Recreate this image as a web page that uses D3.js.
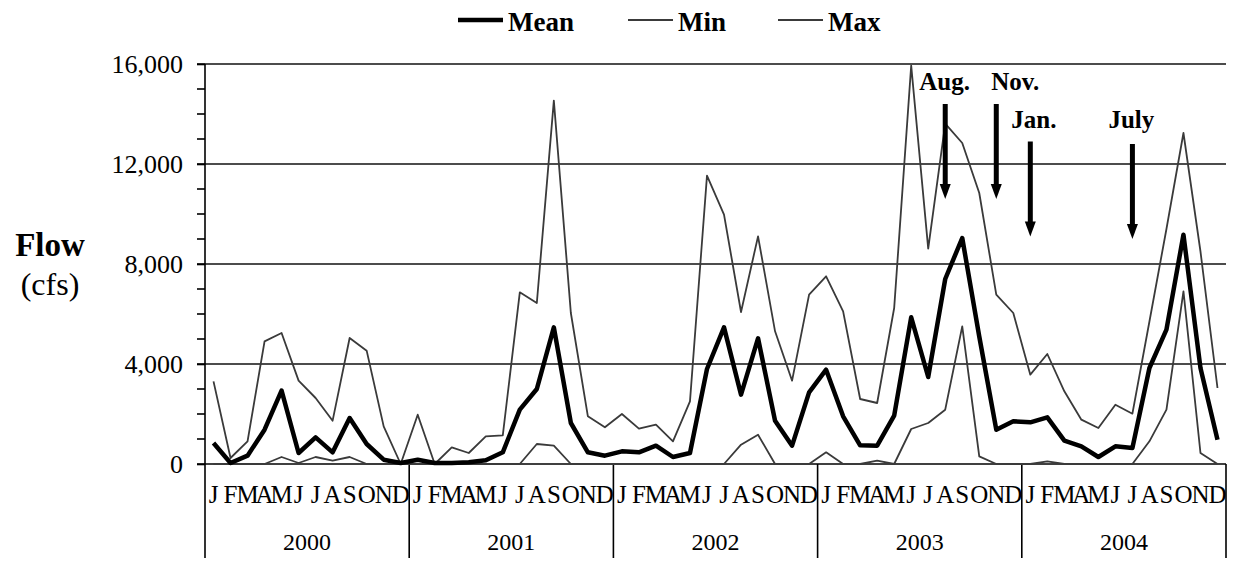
<!DOCTYPE html>
<html>
<head>
<meta charset="utf-8">
<script src="https://cdn.jsdelivr.net/npm/d3@7"></script>
<style>
  body { margin: 0; background: #fff; }
  svg { display: block; font-family: "Liberation Serif", "Times New Roman", serif; }
</style>
</head>
<body>
<svg id="chart" width="1233" height="562"></svg>
<script>
// Monthly flow, 2000-2004 (cfs)
var years = ['2000', '2001', '2002', '2003', '2004'];
var monthLetters = ['J', 'F', 'M', 'A', 'M', 'J', 'J', 'A', 'S', 'O', 'N', 'D'];

var meanFlow = [
    840, 40, 333, 1373, 2933, 440, 1067, 467, 1840, 800, 173, 40,
    173, 40, 40, 67, 147, 467, 2173, 3000, 5467, 1640, 467, 333,
    507, 467, 733, 280, 440, 3800, 5467, 2773, 5027, 1733, 733, 2867,
    3773, 1907, 747, 733, 1933, 5867, 3480, 7400, 9040, 5100, 1373, 1707,
    1667, 1867, 933, 707, 280, 707, 640, 3840, 5373, 9173, 3840, 973
];
var minFlow = [
    0, 0, 0, 0, 280, 40, 280, 133, 280, 0, 0, 0,
    0, 0, 0, 0, 0, 0, 0, 800, 733, 0, 0, 0,
    0, 0, 0, 0, 0, 0, 0, 773, 1173, 0, 0, 0,
    467, 0, 0, 133, 0, 1400, 1640, 2173, 5507, 307, 0, 0,
    0, 107, 0, 0, 0, 0, 0, 907, 2173, 6907, 440, 0
];
var maxFlow = [
    3307, 240, 907, 4907, 5240, 3333, 2640, 1733, 5040, 4533, 1507, 0,
    1973, 0, 667, 440, 1107, 1147, 6867, 6440, 14533, 6040, 1907, 1467,
    2000, 1413, 1573, 907, 2507, 11533, 9973, 6080, 9107, 5307, 3333, 6773,
    7507, 6107, 2600, 2440, 6240, 15933, 8613, 13613, 12840, 10840, 6773, 6040,
    3573, 4400, 2907, 1773, 1440, 2373, 2013, 5700, 9400, 13240, 8500, 3040
];

var yTicks = [0, 4000, 8000, 12000, 16000];
var yMinorTicks = d3.range(0, 16001, 1000);

// arrows: month index, label, top and bottom value
var noteMonth = [43, 46, 48, 54];
var noteText = ['Aug.', 'Nov.', 'Jan.', 'July'];
var noteTop = [14400, 14400, 12900, 12800];
var noteBottom = [10600, 10600, 9100, 9000];

var svg = d3.select('#chart');
// note: "top" is taken by window.top, so use plot* names
var plotLeft = 205, plotRight = 1226, plotTop = 64, plotBottom = 464;

var nMonths = years.length * 12;
var x = d3.scaleLinear().domain([0, nMonths]).range([plotLeft, plotRight]);
var y = d3.scaleLinear().domain([0, 16000]).range([plotBottom, plotTop]);
function mx(i) { return x(i + 0.5); }

// gridlines
svg.append('g').selectAll('line')
    .data(yTicks.filter(function(d) { return d > 0; }))
    .enter().append('line')
    .attr('x1', plotLeft).attr('x2', plotRight)
    .attr('y1', function(d) { return y(d); })
    .attr('y2', function(d) { return y(d); })
    .attr('stroke', '#111').attr('stroke-width', 1.6);

// y axis with major labels
var yAxis = d3.axisLeft(y)
    .tickValues(yTicks)
    .tickSize(8)
    .tickPadding(14)
    .tickFormat(d3.format(','));
var ya = svg.append('g').attr('transform', 'translate(' + plotLeft + ',0)').call(yAxis);
ya.select('.domain').remove();
ya.selectAll('.tick line').attr('stroke', '#000').attr('stroke-width', 1.6);
ya.selectAll('.tick text').attr('font-size', 26).attr('fill', '#000')
    .attr('font-family', '"Liberation Serif", "Times New Roman", serif');

// minor ticks
svg.append('g').selectAll('line')
    .data(yMinorTicks)
    .enter().append('line')
    .attr('x1', plotLeft - 8).attr('x2', plotLeft)
    .attr('y1', function(d) { return y(d); })
    .attr('y2', function(d) { return y(d); })
    .attr('stroke', '#000').attr('stroke-width', 1.6);

// axis lines
svg.append('line')
    .attr('x1', plotLeft).attr('x2', plotLeft).attr('y1', plotTop).attr('y2', 558)
    .attr('stroke', '#000').attr('stroke-width', 1.6);
svg.append('line')
    .attr('x1', plotLeft).attr('x2', plotRight).attr('y1', plotBottom).attr('y2', plotBottom)
    .attr('stroke', '#000').attr('stroke-width', 1.6);

// year separators
svg.append('g').selectAll('line')
    .data(d3.range(1, years.length + 1))
    .enter().append('line')
    .attr('x1', function(d) { return x(d * 12); })
    .attr('x2', function(d) { return x(d * 12); })
    .attr('y1', plotBottom).attr('y2', 558)
    .attr('stroke', '#000').attr('stroke-width', 1.6);

// month letters
svg.append('g').selectAll('text')
    .data(d3.range(nMonths))
    .enter().append('text')
    .attr('x', function(i) { return mx(i); })
    .attr('y', 503)
    .attr('text-anchor', 'middle')
    .attr('font-size', 25)
    .text(function(i) { return monthLetters[i % 12]; });

// year labels
svg.append('g').selectAll('text')
    .data(years)
    .enter().append('text')
    .attr('x', function(d, i) { return x(i * 12 + 6); })
    .attr('y', 550)
    .attr('text-anchor', 'middle')
    .attr('font-size', 24)
    .text(function(d) { return d; });

// series lines
var line = d3.line()
    .x(function(d, i) { return mx(i); })
    .y(function(d) { return y(d); })
    .curve(d3.curveLinear);

svg.append('path').datum(minFlow)
    .attr('d', line).attr('fill', 'none')
    .attr('stroke', '#3a3a3a').attr('stroke-width', 1.8)
    .attr('stroke-linejoin', 'round');
svg.append('path').datum(maxFlow)
    .attr('d', line).attr('fill', 'none')
    .attr('stroke', '#3a3a3a').attr('stroke-width', 1.8)
    .attr('stroke-linejoin', 'round');
svg.append('path').datum(meanFlow)
    .attr('d', line).attr('fill', 'none')
    .attr('stroke', '#000').attr('stroke-width', 4.5)
    .attr('stroke-linejoin', 'round');

// arrows and their labels
var headLen = 15, headHalf = 5.5;
var noteDx = [-26, -5, -19, -24];      // label start relative to arrow
var noteBase = [90, 90, 128, 128];      // label baselines
noteMonth.forEach(function(m, k) {
    var ax = mx(m);
    var y0 = y(noteTop[k]), y1 = y(noteBottom[k]);
    svg.append('line')
        .attr('x1', ax).attr('x2', ax)
        .attr('y1', y0).attr('y2', y1 - headLen + 1)
        .attr('stroke', '#000').attr('stroke-width', 5);
    svg.append('path')
        .attr('d', 'M' + (ax - headHalf) + ',' + (y1 - headLen) +
            'L' + (ax + headHalf) + ',' + (y1 - headLen) +
            'L' + ax + ',' + y1 + 'Z')
        .attr('fill', '#000');
    svg.append('text')
        .attr('x', ax + noteDx[k]).attr('y', noteBase[k])
        .attr('font-size', 25).attr('font-weight', 'bold')
        .text(noteText[k]);
});

// legend
var legendItems = [
    {name: 'Mean', width: 4.5, color: '#000', x: 458},
    {name: 'Min', width: 1.8, color: '#3a3a3a', x: 628},
    {name: 'Max', width: 1.8, color: '#3a3a3a', x: 778}
];
var lg = svg.append('g').selectAll('g').data(legendItems).enter().append('g');
lg.append('line')
    .attr('x1', function(d) { return d.x; })
    .attr('x2', function(d) { return d.x + 45; })
    .attr('y1', 20).attr('y2', 20)
    .attr('stroke', function(d) { return d.color; })
    .attr('stroke-width', function(d) { return d.width; });
lg.append('text')
    .attr('x', function(d) { return d.x + 50; })
    .attr('y', 31)
    .attr('font-size', 27).attr('font-weight', 'bold')
    .text(function(d) { return d.name; });

// y title
svg.append('text')
    .attr('x', 50).attr('y', 256).attr('text-anchor', 'middle')
    .attr('font-size', 33).attr('font-weight', 'bold')
    .text('Flow');
svg.append('text')
    .attr('x', 50).attr('y', 295).attr('text-anchor', 'middle')
    .attr('font-size', 32)
    .text('(cfs)');
</script>
</body>
</html>
